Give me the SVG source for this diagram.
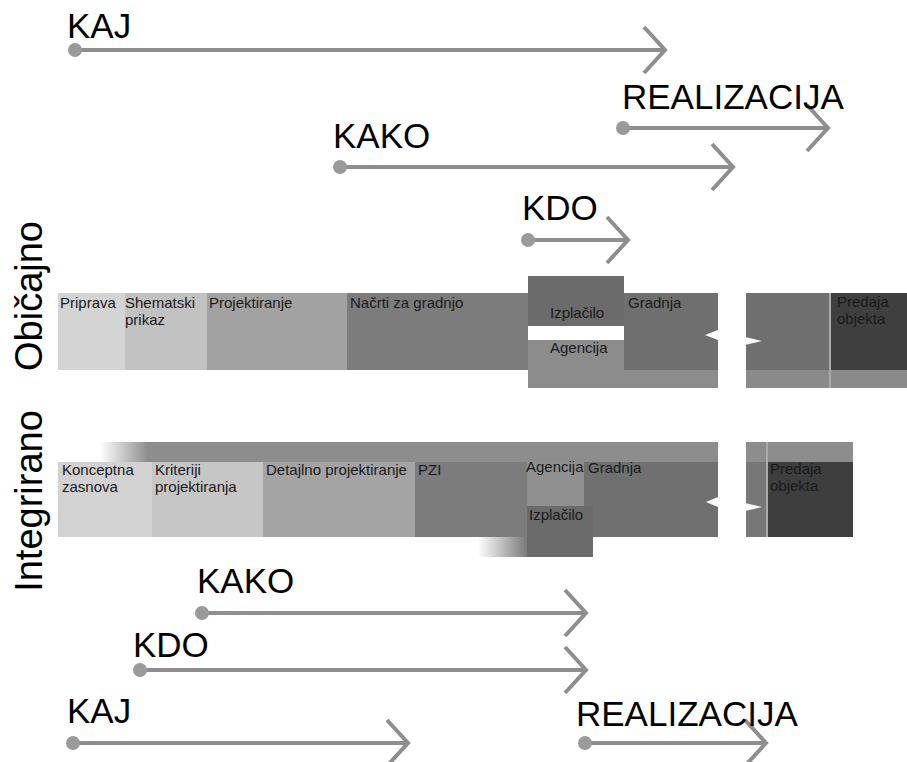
<svg xmlns="http://www.w3.org/2000/svg" width="907" height="762" viewBox="0 0 907 762">
<style>
.big{font-family:"Liberation Sans",Arial,sans-serif;font-size:35px;fill:#000}
.side{font-family:"Liberation Sans",Arial,sans-serif;font-size:38px;fill:#000}
.lab{font-family:"Liberation Sans",Arial,sans-serif;font-size:15px;fill:#1a1a1a}
.arr{stroke:#8e8e8e;stroke-width:4;fill:none;marker-start:url(#dot);marker-end:url(#chev)}
.notch{fill:#fff}
</style>
<defs>
<marker id="dot" markerUnits="userSpaceOnUse" markerWidth="20" markerHeight="20" refX="10" refY="10" orient="auto" overflow="visible">
<circle cx="10" cy="10" r="7" fill="#9a9a9a"/>
</marker>
<marker id="chev" markerUnits="userSpaceOnUse" markerWidth="30" markerHeight="50" refX="0" refY="0" orient="auto" overflow="visible">
<path d="M-21,-23 L0,0 L-21,23" fill="none" stroke="#8e8e8e" stroke-width="4"/>
</marker>
<linearGradient id="fadeTop" gradientUnits="userSpaceOnUse" x1="100" y1="0" x2="148" y2="0">
<stop offset="0" stop-color="#ffffff"/>
<stop offset="1" stop-color="#8d8d8d"/>
</linearGradient>
<linearGradient id="fadeBot" gradientUnits="userSpaceOnUse" x1="478" y1="0" x2="527" y2="0">
<stop offset="0" stop-color="#ffffff"/>
<stop offset="1" stop-color="#7a7a7a"/>
</linearGradient>
</defs>
<rect width="907" height="762" fill="#fff"/>

<g id="side-labels">
<text class="side" transform="translate(42,296) rotate(-90)" text-anchor="middle">Običajno</text>
<text class="side" transform="translate(42,501) rotate(-90)" text-anchor="middle">Integrirano</text>
</g>

<g id="obicajno">
<g id="o-priprava"><rect x="58" y="293" width="67" height="77" fill="#d4d4d4"/><text class="lab" x="60" y="308">Priprava</text></g>
<g id="o-shematski"><rect x="125" y="293" width="82" height="77" fill="#c2c2c2"/><text class="lab" x="125" y="308">Shematski</text><text class="lab" x="125" y="325">prikaz</text></g>
<g id="o-projektiranje"><rect x="207" y="293" width="140" height="77" fill="#a2a2a2"/><text class="lab" x="209" y="308">Projektiranje</text></g>
<g id="o-nacrti"><rect x="347" y="293" width="181" height="77" fill="#7c7c7c"/><text class="lab" x="350" y="308">Načrti za gradnjo</text></g>
<g id="o-agencija"><rect x="528" y="340" width="190" height="48" fill="#8c8c8c"/><text class="lab" x="550" y="353">Agencija</text></g>
<g id="o-izplacilo"><rect x="528" y="276" width="96" height="50" fill="#6b6b6b"/><text class="lab" x="550" y="318">Izplačilo</text></g>
<g id="o-gradnja"><rect x="624" y="293" width="94" height="77" fill="#6f6f6f"/><text class="lab" x="628" y="308">Gradnja</text>
<polygon class="notch" points="718,330 705,335 718,340"/></g>
<g id="o-gradnja2"><rect x="746" y="293" width="84" height="95" fill="#8a8a8a"/><rect x="746" y="293" width="84" height="77" fill="#6f6f6f"/>
<polygon class="notch" points="745,337 762,341 745,345"/></g>
<g id="o-predaja"><rect x="830" y="293" width="77" height="95" fill="#8a8a8a"/><rect x="830" y="293" width="77" height="77" fill="#3f3f3f"/><rect x="829" y="293" width="2" height="95" fill="#aaaaaa"/><text class="lab" x="837" y="307">Predaja</text><text class="lab" x="837" y="324">objekta</text></g>
</g>

<g id="integrirano">
<g id="i-topband"><rect x="100" y="442" width="618" height="20" fill="url(#fadeTop)"/></g>
<g id="i-konceptna"><rect x="58" y="462" width="94" height="75" fill="#d2d2d2"/><text class="lab" x="62" y="475">Konceptna</text><text class="lab" x="62" y="492">zasnova</text></g>
<g id="i-kriteriji"><rect x="152" y="462" width="111" height="75" fill="#c6c6c6"/><text class="lab" x="155" y="475">Kriteriji</text><text class="lab" x="155" y="492">projektiranja</text></g>
<g id="i-detajlno"><rect x="263" y="462" width="152" height="75" fill="#a4a4a4"/><text class="lab" x="266" y="475">Detajlno projektiranje</text></g>
<g id="i-pzi"><rect x="415" y="462" width="112" height="75" fill="#7c7c7c"/><text class="lab" x="418" y="475">PZI</text></g>
<g id="i-gradnja"><rect x="527" y="462" width="191" height="75" fill="#707070"/><text class="lab" x="588" y="473">Gradnja</text>
<polygon class="notch" points="718,497 706,502 718,507"/></g>
<g id="i-izplacilo"><rect x="478" y="537" width="49" height="20" fill="url(#fadeBot)"/><rect x="527" y="506" width="66" height="51" fill="#6b6b6b"/><text class="lab" x="529" y="520">Izplačilo</text></g>
<g id="i-agencija"><rect x="527" y="462" width="57" height="44" fill="#909090"/><text class="lab" x="526" y="472">Agencija</text></g>
<g id="i-predaja"><rect x="746" y="442" width="107" height="95" fill="#777777"/><rect x="746" y="442" width="107" height="20" fill="#8d8d8d"/><rect x="768" y="462" width="85" height="75" fill="#3e3e3e"/><rect x="766" y="442" width="2" height="95" fill="#aaaaaa"/><text class="lab" x="770" y="474">Predaja</text><text class="lab" x="770" y="491">objekta</text>
<polygon class="notch" points="745,503 762,507 745,511"/></g>
</g>

<g id="connectors">
<g id="a-kaj-top"><path class="arr" d="M75,50 H665"/><text class="big" x="67" y="38">KAJ</text></g>
<g id="a-realizacija-top"><path class="arr" d="M623,128 H828"/><text class="big" x="622" y="109">REALIZACIJA</text></g>
<g id="a-kako-top"><path class="arr" d="M340,167 H733"/><text class="big" x="333" y="148">KAKO</text></g>
<g id="a-kdo-top"><path class="arr" d="M528,240 H628"/><text class="big" x="522" y="220">KDO</text></g>
<g id="a-kako-bot"><path class="arr" d="M202,613 H586"/><text class="big" x="197" y="593">KAKO</text></g>
<g id="a-kdo-bot"><path class="arr" d="M140,670 H586"/><text class="big" x="133" y="657">KDO</text></g>
<g id="a-kaj-bot"><path class="arr" d="M73,743 H408"/><text class="big" x="67" y="723">KAJ</text></g>
<g id="a-realizacija-bot"><path class="arr" d="M585,743 H766"/><text class="big" x="576" y="726">REALIZACIJA</text></g>
</g>
</svg>
